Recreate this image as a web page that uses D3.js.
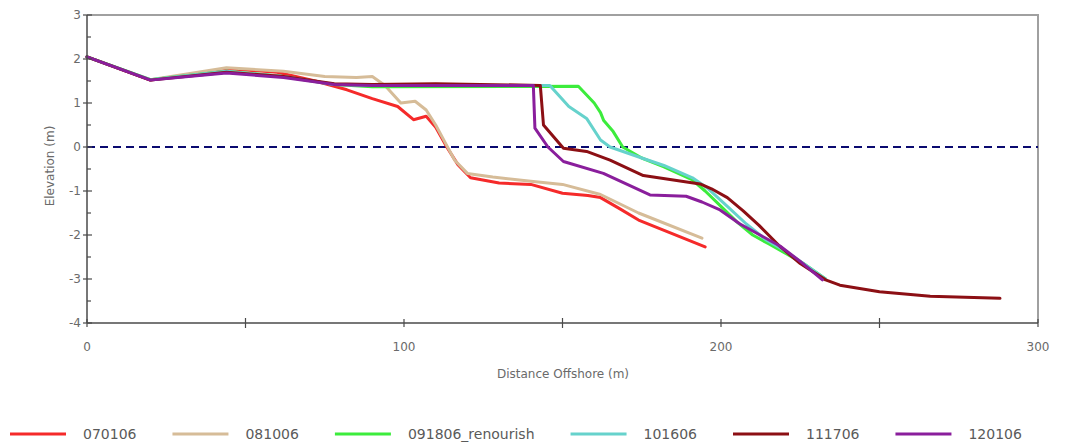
<!DOCTYPE html>
<html><head><meta charset="utf-8">
<script src="https://cdn.jsdelivr.net/npm/d3@7"></script>
<style>body{margin:0;background:#fff;font-family:"DejaVu Sans",Verdana,sans-serif;}</style>
</head><body><svg id="c" width="1071" height="448"></svg>
<script>
const seriesNames = ["070106","081006","091806_renourish","101606","111706","120106"];
const seriesColors = ["#f52a2a","#d6bc98","#3cec3c","#66d2cc","#8c0f14","#8a1e9c"];
const s070106 = [[0,2.05],[20,1.52],[44,1.78],[60,1.7],[72,1.5],[82,1.3],[90,1.1],[98,0.92],[103,0.62],[107,0.7],[110,0.45],[113.5,0],[117,-0.4],[121,-0.7],[130,-0.82],[140,-0.85],[150,-1.05],[158,-1.1],[162,-1.15],[168,-1.4],[174,-1.66],[195,-2.27]];
const s081006 = [[0,2.05],[20,1.53],[44,1.8],[62,1.72],[75,1.6],[85,1.58],[90,1.6],[94,1.4],[99,1.0],[103.5,1.04],[107,0.84],[110,0.5],[113,0.1],[116,-0.3],[120,-0.6],[128,-0.68],[140,-0.78],[150,-0.85],[162,-1.08],[174,-1.5],[194,-2.07]];
const s091806 = [[0,2.05],[20,1.53],[44,1.72],[62,1.6],[78,1.42],[90,1.37],[155,1.38],[160,1.0],[162,0.78],[163,0.6],[166,0.35],[169,0],[175,-0.25],[182,-0.45],[191,-0.75],[195,-1.0],[200,-1.35],[205,-1.7],[210,-2.0],[215,-2.2],[220,-2.4],[226,-2.65],[233,-3.0]];
const s101606 = [[0,2.05],[20,1.53],[44,1.72],[62,1.6],[78,1.42],[90,1.4],[146,1.4],[152,0.92],[157.6,0.65],[162,0.16],[165,0],[175,-0.25],[182,-0.42],[191,-0.7],[196,-0.95],[202,-1.35],[208,-1.75],[214,-2.1],[220,-2.35],[226,-2.65],[233,-3.0]];
const s111706 = [[0,2.05],[20,1.52],[44,1.7],[62,1.6],[78,1.44],[90,1.42],[110,1.44],[143,1.4],[144,0.5],[150.3,-0.03],[157.6,-0.1],[165,-0.3],[175.5,-0.65],[193.4,-0.84],[197,-0.95],[202,-1.15],[207,-1.45],[212,-1.78],[218.6,-2.26],[225,-2.65],[233,-3.02],[237.5,-3.14],[250,-3.29],[266,-3.39],[288,-3.44]];
const s120106 = [[0,2.05],[20,1.52],[44,1.68],[62,1.58],[78,1.42],[90,1.4],[140.8,1.4],[141.3,0.43],[145.4,0],[150.3,-0.33],[162.9,-0.6],[177.6,-1.09],[189,-1.12],[194,-1.25],[199.7,-1.43],[206,-1.75],[212.3,-2.0],[218.6,-2.25],[225,-2.6],[232,-3.02]];
const seriesData = [s070106,s081006,s091806,s101606,s111706,s120106];
const xTicks = [0,100,200,300];
const xMinor = [50,150,250];
const yTicks = [-4,-3,-2,-1,0,1,2,3];
const yMinor = [-3.5,-2.5,-1.5,-0.5,0.5,1.5,2.5];
const xTitle = "Distance Offshore (m)";
const yTitle = "Elevation (m)";
const refLevel = 0;

const svg = d3.select("#c");
const L=87, R=1038, T=15, B=323;
const x = d3.scaleLinear().domain([0,300]).range([L,R]);
const y = d3.scaleLinear().domain([-4,3]).range([B,T]);
const txt="#6a6a6a";

svg.append("path").attr("d",`M${L},${T}H${R}V${B}`).attr("fill","none").attr("stroke","#a0a0a0").attr("stroke-width",2);

svg.append("line").attr("x1",x(0)).attr("x2",x(300)).attr("y1",y(refLevel)).attr("y2",y(refLevel))
  .attr("stroke","#0a0a70").attr("stroke-width",2.2).attr("stroke-dasharray","8,5");

const line = d3.line().x(d=>x(d[0])).y(d=>y(d[1]));
seriesData.forEach((d,i)=>{
  svg.append("path").datum(d).attr("d",line).attr("fill","none")
    .attr("stroke",seriesColors[i]).attr("stroke-width",3).attr("stroke-linejoin","round").attr("stroke-linecap","round");
});

const ax = svg.append("g").attr("stroke","#4a4a4a");
ax.append("line").attr("x1",L).attr("x2",L).attr("y1",T).attr("y2",B).attr("stroke-width",1.5);
ax.append("line").attr("x1",L).attr("x2",R).attr("y1",B).attr("y2",B).attr("stroke-width",1.5);
yTicks.forEach(v=>ax.append("line").attr("x1",L-4).attr("x2",L+5).attr("y1",y(v)).attr("y2",y(v)).attr("stroke-width",1.2));
yMinor.forEach(v=>ax.append("line").attr("x1",L).attr("x2",L+4).attr("y1",y(v)).attr("y2",y(v)).attr("stroke-width",1.2));
xTicks.forEach(v=>ax.append("line").attr("x1",x(v)).attr("x2",x(v)).attr("y1",B-4).attr("y2",B+4).attr("stroke-width",1.2));
xMinor.forEach(v=>ax.append("line").attr("x1",x(v)).attr("x2",x(v)).attr("y1",B-5).attr("y2",B+5).attr("stroke-width",1.2));

yTicks.forEach(v=>svg.append("text").attr("x",L-6).attr("y",y(v)).attr("dy","0.35em").attr("text-anchor","end")
  .attr("font-size",12).attr("fill",txt).text(v));
xTicks.forEach(v=>svg.append("text").attr("x",x(v)).attr("y",351).attr("text-anchor","middle")
  .attr("font-size",12).attr("fill",txt).text(v));

svg.append("text").attr("x",563).attr("y",378).attr("text-anchor","middle").attr("font-size",12).attr("fill",txt).text(xTitle);
svg.append("text").attr("transform",`translate(54,166) rotate(-90)`).attr("text-anchor","middle").attr("font-size",12).attr("fill",txt).text(yTitle);

let lx = 10; const ly = 434;
seriesNames.forEach((n,i)=>{
  svg.append("line").attr("x1",lx).attr("x2",lx+56).attr("y1",ly).attr("y2",ly).attr("stroke",seriesColors[i]).attr("stroke-width",3);
  const t = svg.append("text").attr("x",lx+73).attr("y",ly).attr("dy","0.35em").attr("font-size",14).attr("fill","#5a5a5a").text(n);
  lx = lx+73+t.node().getComputedTextLength()+36;
});
</script></body></html>
